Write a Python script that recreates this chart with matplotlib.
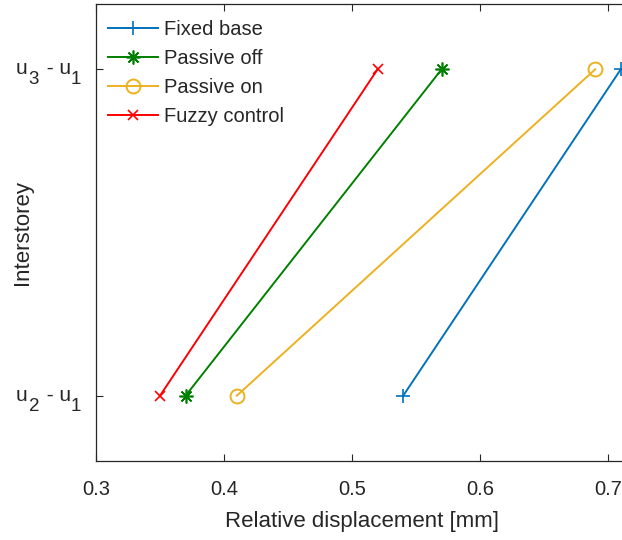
import matplotlib
matplotlib.use("Agg")
import matplotlib.pyplot as plt

plt.rcParams['font.family'] = ['Liberation Sans', 'DejaVu Sans']

# y categories: (first subscript, second subscript) of "u_a - u_b"
categories = [('2', '1'), ('3', '1')]
levels = [1, 2]
fixed_base = [0.54, 0.71]
passive_off = [0.37, 0.57]
passive_on = [0.41, 0.69]
fuzzy = [0.35, 0.52]
xticks = [0.3, 0.4, 0.5, 0.6, 0.7]

fig = plt.figure(figsize=(6.22, 5.40), dpi=100)
W, H = 622, 540
x_min, x_max = 0.3, 0.7156
left, bottom, top = 96, 461, 4
right = 96 + 1280 * (x_max - x_min)
ax_w = right - left
ax = fig.add_axes([left / W, (H - bottom) / H, ax_w / W, (bottom - top) / H])

dark = '#262626'
ax.plot(fixed_base, levels, color='#0072BD', marker='+', ms=10, mew=1.2, lw=1.4, label='Fixed base')
ax.plot(passive_off, levels, color='#008000', marker=(8, 2, 0), ms=10, mew=1.2, lw=1.4, label='Passive off')
ax.plot(passive_on, levels, color='#EDB120', marker='o', ms=10, mfc='none', mew=1.4, lw=1.4, label='Passive on')
ax.plot(fuzzy, levels, color='#FF0000', marker='x', ms=7, mew=1.2, lw=1.4, label='Fuzzy control')

ax.set_xlim(x_min, x_max)
ax.set_ylim(0.8, 2.2)
ax.set_xticks(xticks)
ax.set_xticklabels([f'{v:.1f}' for v in xticks])
ax.set_yticks(levels)
ax.set_yticklabels([])
ax.tick_params(direction='in', top=True, right=False, length=5, width=0.8, colors=dark, labelsize=14.5)
ax.tick_params(axis='x', pad=14)
for s in ax.spines.values():
    s.set_color(dark)
    s.set_linewidth(0.9)

# y tick labels "u_a - u_b" built from pieces (MATLAB-like large subscripts)
px = 72.0 / 100.0  # points per pixel
main_fs, sub_fs = 15, 13.5
for lvl, (a, b) in zip(levels, categories):
    common = dict(textcoords='offset points', ha='right', va='baseline', color=dark, annotation_clip=False)
    t_b = ax.annotate(b, xy=(0, lvl), xycoords=('axes fraction', 'data'),
                      xytext=(-15 * px, -15 * px), fontsize=sub_fs, **common)
    t_mid = ax.annotate(' - u', xy=(0, lvl), xycoords=(t_b, 'data'),
                        xytext=(0, -5 * px), fontsize=main_fs, **common)
    t_a = ax.annotate(a, xy=(0, lvl), xycoords=(t_mid, 'data'),
                      xytext=(-1.5 * px, -15 * px), fontsize=sub_fs, **common)
    ax.annotate('u', xy=(0, lvl), xycoords=(t_a, 'data'),
                xytext=(-1.5 * px, -5 * px), fontsize=main_fs, **common)

ax.set_xlabel('Relative displacement [mm]', fontsize=16, color=dark, labelpad=8)
ax.set_ylabel('Interstorey', fontsize=16, color=dark)
ax.yaxis.set_label_coords(-63 / ax_w, 0.5)

leg = ax.legend(loc='upper left', bbox_to_anchor=(-4 / ax_w, 1), frameon=False, fontsize=14.5,
                handlelength=2.5, handletextpad=0.3,
                labelspacing=0.5, borderaxespad=0.5, borderpad=0.3)
for t in leg.get_texts():
    t.set_color(dark)

fig.savefig('out.png', dpi=100)
